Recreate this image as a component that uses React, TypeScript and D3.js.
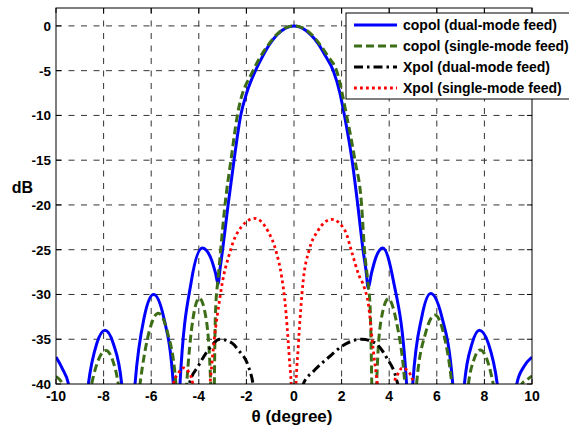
import React from "react";
import * as d3 from "d3";

// ---- data (θ in degrees, level in dB) ----
const xTicks = [-10, -8, -6, -4, -2, 0, 2, 4, 6, 8, 10];
const yTicks = [0, -5, -10, -15, -20, -25, -30, -35, -40];

const seriesNames = [
  "copol (dual-mode feed)",
  "copol (single-mode feed)",
  "Xpol (dual-mode feed)",
  "Xpol (single-mode feed)",
];

const copolDualTheta = [
  -10.0, -9.75, -9.45, -9.05, -8.64, -8.29, -7.94, -7.59, -7.24, -6.96, -6.68, -6.29, -5.9, -5.48, -5.07,
  -4.93, -4.79, -4.32, -3.85, -3.5, -3.3, -3.19, -3.1, -3.0, -2.77, -2.52, -2.24, -1.99, -1.62, -1.3, -1.0,
  -0.7, -0.35, 0, 0.35, 0.7, 1.02, 1.33, 1.65, 1.93, 2.12, 2.44, 2.68, 2.9, 3.02, 3.12, 3.25, 3.45, 3.73,
  4.17, 4.73, 4.86, 4.99, 5.37, 5.74, 6.2, 6.67, 6.9, 7.16, 7.48, 7.79, 8.17, 8.54, 8.95, 9.36, 9.65, 10.0,
];
const copolDualDb = [
  -37.0, -38.2, -40.3, -52, -40, -35.5, -34.0, -35.5, -40, -52, -40, -32.5, -30.0, -32.5, -40,
  -50, -40, -28.6, -24.8, -25.9, -27.6, -28.8, -27.0, -25, -20, -15, -10, -7.5, -5, -3.3, -1.96,
  -0.96, -0.24, 0, -0.24, -0.98, -2.0, -3.4, -5, -7.5, -10, -15, -20, -25, -27.2, -29.3, -27.7, -25.8, -24.8,
  -28.4, -40, -50, -40, -32.5, -29.9, -32.4, -40, -52, -40, -35.5, -34.0, -35.5, -40, -52, -40, -38.1, -37.0,
];

const copolSingleTheta = [
  -10.0, -9.69, -9.1, -8.5, -8.2, -7.9, -7.64, -7.38, -6.92, -6.47, -6.08, -5.7, -5.33, -4.96, -4.73,
  -4.51, -4.25, -3.98, -3.7, -3.5, -3.41, -3.3, -3.18, -3.08, -2.9, -2.65, -2.38, -1.72, -1.38, -1.05, -0.72,
  -0.36, 0, 0.36, 0.74, 1.07, 1.43, 1.79, 2.21, 2.56, 2.84, 2.96, 3.1, 3.2, 3.36, 3.5, 3.65, 3.96, 4.3, 4.66,
  4.9, 5.15, 5.53, 5.92, 6.28, 6.63, 6.98, 7.33, 7.57, 7.82, 8.1, 8.37, 8.97, 9.57, 9.8, 10.0,
];
const copolSingleDb = [
  -39.15, -40.2, -52, -40, -37.2, -36.25, -37.2, -40, -52, -40, -34.1, -32.1, -34.1, -40, -50,
  -40, -32.8, -30.4, -32.6, -40, -50, -32, -28, -25, -20, -15, -10, -5, -3.3, -2, -0.95,
  -0.23, 0, -0.23, -0.97, -2, -3.4, -5, -10, -15, -20, -25, -28.5, -31.5, -50, -38, -33, -30.5, -33, -40,
  -50, -40, -34.3, -32.3, -34.3, -40, -52, -40, -37.2, -36.2, -37.2, -40, -52, -40, -39.5, -39.1,
];

const xpolDualTheta = [
  -4.75, -4.4, -4.02, -3.6, -3.11, -2.62, -2.34, -1.92, -1.72, -1.3, 0.0, 0.39, 0.81, 1.51, 2.0, 2.84,
  3.4, 3.9, 4.31, 4.5, 4.8,
];
const xpolDualDb = [
  -50, -40, -38.0, -36.2, -35.0, -35.4, -36.2, -38.0, -40, -52, -52, -40, -38.6, -36.9, -35.8, -35.0,
  -35.4, -37.1, -39.5, -42, -52,
];

const xpolSingleTheta = [
  -5.35, -5.07, -4.86, -4.65, -4.44, -4.25, -3.9, -3.53, -3.35, -3.12, -3.0, -2.75, -2.4, -1.65, -1.1,
  -0.75, -0.52, -0.38, -0.2, -0.09, 0, 0.06, 0.18, 0.39, 0.64, 1.0, 1.58, 2.15, 2.42, 2.72, 2.95, 3.12,
  3.33, 3.5, 3.85, 4.2, 4.38, 4.55, 4.8, 5.02, 5.3,
];
const xpolSingleDb = [
  -50, -40, -38.8, -38.2, -38.6, -40, -50, -40, -35, -30.5, -28.5, -25.8, -23.2, -21.5, -22.9,
  -25.2, -28, -30.8, -37, -42, -60, -42, -35.8, -28.4, -25, -22.9, -21.6, -22.9, -25.2, -27.8, -29.2, -31.0,
  -36.2, -40, -50, -40, -38.8, -38.2, -38.6, -40, -50,
];

const seriesTheta = [copolDualTheta, copolSingleTheta, xpolDualTheta, xpolSingleTheta];
const seriesDb = [copolDualDb, copolSingleDb, xpolDualDb, xpolSingleDb];

// ---- styles ----
const seriesStyle = [
  { color: "#0000ff", width: 3, dash: "none" },
  { color: "#3d6e17", width: 3, dash: "8,4" },
  { color: "#000000", width: 3, dash: "9,4,2.5,4" },
  { color: "#ff0000", width: 2.8, dash: "2.8,3.2" },
];

const W = 569;
const H = 432;
const L = 56;
const R = 532;
const T = 8;
const B = 384;
const FONT = "'Liberation Sans', Arial, Helvetica, sans-serif";

export default function App() {
  const x = d3.scaleLinear().domain([-10, 10]).range([L, R]);
  const y = d3.scaleLinear().domain([-40, 2]).range([B, T]);

  const line = d3
    .line<[number, number]>()
    .x((d) => x(d[0]))
    .y((d) => y(d[1]))
    .curve(d3.curveMonotoneX);

  const gridX = xTicks.filter((t) => t > -10 && t < 10);
  const gridY = yTicks.filter((t) => t > -40);

  const legX = 346;
  const legY = 13;
  const legRows = [25, 46, 67, 88];

  return (
    <svg
      width={W}
      height={H}
      style={{ position: "absolute", left: 0, top: 0, background: "#fff" }}
      fontFamily={FONT}
    >
      <defs>
        <clipPath id="plotclip">
          <rect x={L} y={T} width={R - L} height={B - T} />
        </clipPath>
      </defs>
      <rect x={0} y={0} width={W} height={H} fill="#fff" />

      {/* grid */}
      <g stroke="#333" strokeWidth={1} strokeDasharray="6,6.5" fill="none">
        {gridX.map((t) => (
          <line key={"gx" + t} x1={x(t)} x2={x(t)} y1={T} y2={B} />
        ))}
        {gridY.map((t) => (
          <line key={"gy" + t} x1={L} x2={R} y1={y(t)} y2={y(t)} />
        ))}
      </g>

      {/* series */}
      <g clipPath="url(#plotclip)" fill="none">
        {seriesTheta.map((th, i) => {
          const pts: [number, number][] = th.map((t, j) => [t, seriesDb[i][j]]);
          const s = seriesStyle[i];
          return (
            <path
              key={"s" + i}
              d={line(pts) || ""}
              stroke={s.color}
              strokeWidth={s.width}
              strokeDasharray={s.dash}
              strokeLinejoin="round"
            />
          );
        })}
      </g>

      {/* axes box and ticks */}
      <rect x={L} y={T} width={R - L} height={B - T} fill="none" stroke="#000" strokeWidth={1} />
      <g stroke="#000" strokeWidth={1}>
        {xTicks.map((t) => (
          <g key={"xt" + t}>
            <line x1={x(t)} x2={x(t)} y1={B} y2={B - 5} />
            <line x1={x(t)} x2={x(t)} y1={T} y2={T + 5} />
          </g>
        ))}
        {yTicks.map((t) => (
          <g key={"yt" + t}>
            <line x1={L} x2={L + 5} y1={y(t)} y2={y(t)} />
            <line x1={R} x2={R - 5} y1={y(t)} y2={y(t)} />
          </g>
        ))}
      </g>

      {/* tick labels */}
      <g fontWeight="bold" fontSize={14} fill="#000">
        {xTicks.map((t) => (
          <text key={"xl" + t} x={x(t)} y={401} textAnchor="middle">
            {t}
          </text>
        ))}
      </g>
      <g fontWeight="bold" fontSize={13.5} fill="#000">
        {yTicks.map((t) => (
          <text key={"yl" + t} x={51} y={y(t) + 5} textAnchor="end">
            {t}
          </text>
        ))}
      </g>

      {/* axis titles */}
      <text x={22.5} y={193} textAnchor="middle" fontWeight="bold" fontSize={16}>
        dB
      </text>
      <text x={292} y={422} textAnchor="middle" fontWeight="bold" fontSize={17}>
        θ (degree)
      </text>

      {/* legend */}
      <rect x={legX} y={legY} width={240} height={86} fill="#fff" stroke="#000" strokeWidth={1} />
      {seriesNames.map((name, i) => {
        const s = seriesStyle[i];
        const yy = legRows[i];
        return (
          <g key={"lg" + i}>
            <line
              x1={354}
              x2={397}
              y1={yy}
              y2={yy}
              stroke={s.color}
              strokeWidth={s.width}
              strokeDasharray={s.dash}
            />
            <text x={403} y={yy + 5} fontWeight="bold" fontSize={14} fill="#000">
              {name}
            </text>
          </g>
        );
      })}
    </svg>
  );
}
